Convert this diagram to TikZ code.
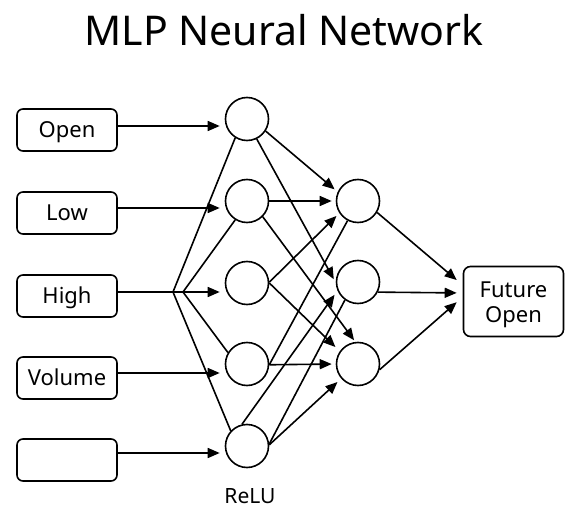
\documentclass[tikz,border=0pt]{standalone}
\usepackage{fontspec}
\setmainfont{Noto Sans}
\usetikzlibrary{arrows.meta,calc}
\begin{document}
\begin{tikzpicture}[x=1pt,y=-1pt,
  lw/.style={line width=1.6pt},
  lblfont/.style={font=\fontsize{22}{26}\selectfont},
  inbox/.style={draw,lw,rounded corners=6pt,minimum width=100pt,minimum height=42pt,inner sep=0pt,lblfont,text height=15.7pt,text depth=0pt},
  outbox/.style={draw,lw,rounded corners=7pt,minimum width=100pt,minimum height=70pt,inner sep=0pt},
  neuron/.style={draw,lw,circle,minimum size=43pt,inner sep=0pt},
  arr/.style={lw,-{Triangle[length=12pt,width=10pt]}},
  ln/.style={lw}]
\useasboundingbox[fill=white] (0,0) rectangle (565,508);

\node[font=\fontsize{41}{48}\selectfont,anchor=base] (title) at (284,46) {MLP Neural Network};

% inputs
\node[inbox] (i1) at (67,130) {Open};
\node[inbox] (i2) at (67,213) {Low};
\node[inbox] (i3) at (67,296) {High};
\node[inbox] (i4) at (67,378) {Volume};
\node[inbox] (i5) at (67,460) {};

% hidden layer 1
\node[neuron] (h1) at (247,119) {};
\node[neuron] (h2) at (247,201) {};
\node[neuron] (h3) at (247,283) {};
\node[neuron] (h4) at (247,364) {};
\node[neuron] (h5) at (247,446) {};

% hidden layer 2
\node[neuron] (g1) at (358,201) {};
\node[neuron] (g2) at (358,282) {};
\node[neuron] (g3) at (358,364) {};

% output
\node[outbox] (out) at (513.5,301.5) {};
\node[lblfont,anchor=base] (outa) at (513.5,297) {Future};
\node[lblfont,anchor=base] (outb) at (513.5,322) {Open};

\node[font=\fontsize{21}{25}\selectfont,anchor=base] (relu) at (250,503) {ReLU};

% junctions
\coordinate (j1) at (173,292);
\coordinate (j2) at (183,292);

% input arrows
\draw[arr,shorten >=5pt] ([yshift=4pt]i1.east) -- ([yshift=4pt]i1.east -| h1.west);
\draw[arr,shorten >=5pt] ([yshift=5pt]i2.east) -- ([yshift=5pt]i2.east -| h2.west);
\draw[arr,shorten >=5pt] ([yshift=4pt]i3.east) -- ([yshift=4pt]i3.east -| h3.west);
\draw[arr,shorten >=5pt] ([yshift=5pt]i4.east) -- ([yshift=5pt]i4.east -| h4.west);
\draw[arr,shorten >=5pt] ([yshift=7pt]i5.east) -- ([yshift=7pt]i5.east -| h5.west);

% fan lines
\draw[ln] (j1) -- (h1.238);
\draw[ln] (j1) -- (h5.137);
\draw[ln] (j2) -- (h2.238);
\draw[ln] (j2) -- (h4.149);

% hidden 1 -> hidden 2
\draw[arr,shorten >=4pt] (h1.-33) -- (g1.156);
\draw[arr,shorten >=4pt] (h1.-64) -- (g2.182);
\draw[arr,shorten >=4pt] (h2.0) -- (g1.180);
\draw[arr,shorten >=2pt] (h2.-45) -- (g3.97);
\draw[arr,shorten >=4pt] (h3.2) -- (g1.213);
\draw[arr,shorten >=6pt] (h3.0) -- (g3.145);
\draw[arr,shorten >=4pt] (h4.-2) -- (g3.180);
\draw[ln] (h4.-2) -- (g1.242);
\draw[arr,shorten >=5pt] (h5.103) -- (g2.203);
\draw[ln] (h5.5) -- (g2.234);
\draw[arr,shorten >=5pt] (h5.3) -- (g3.221);

% hidden 2 -> output
\draw[arr] (g1.-31) -- ($(out.north west)!0.2!(out.south west)+(-6,0)$);
\draw[arr] (g2.-27) -- ($(out.north west)!0.38!(out.south west)+(-6,0)$);
\draw[arr] (g3.-15) -- ($(out.north west)!0.51!(out.south west)+(-6,0)$);
\end{tikzpicture}
\end{document}
